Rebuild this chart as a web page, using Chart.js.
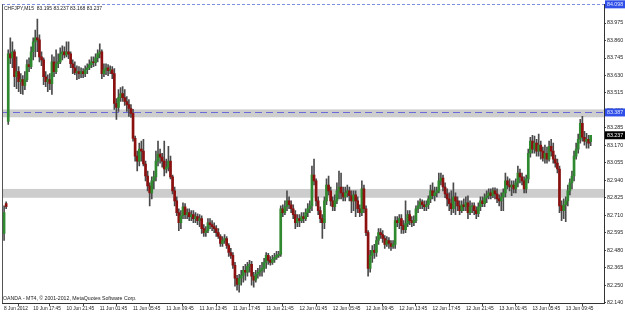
<!DOCTYPE html>
<html>
<head>
<meta charset="utf-8">
<script src="https://cdn.jsdelivr.net/npm/chart.js@4.4.0/dist/chart.umd.min.js"></script>
<style>
  html, body { margin: 0; padding: 0; background: #fff; }
  #wrap { width: 625px; height: 313px; }
</style>
</head>
<body>
<div id="wrap"><canvas id="chart" width="625" height="313"></canvas></div>
<script>
// CHFJPY M15 candles, 8-13 Jun 2012
const symbolTitle = 'CHFJPY,M15  83.195 83.237 83.168 83.237';
const footerText = 'OANDA - MT4, \u00a9 2001-2012, MetaQuotes Software Corp.';

const opens = [
  82.591,82.787,83.328,83.772,83.746,83.786,83.622,83.655,83.590,83.603,
  83.564,83.603,83.701,83.688,83.786,83.851,83.877,83.864,83.753,83.733,
  83.622,83.590,83.603,83.577,83.720,83.655,83.707,83.720,83.772,83.786,
  83.766,83.786,83.772,83.707,83.681,83.648,83.655,83.642,83.655,83.642,
  83.668,83.681,83.701,83.720,83.714,83.746,83.772,83.786,83.642,83.668,
  83.681,83.662,83.668,83.642,83.446,83.420,83.485,83.511,83.485,83.459,
  83.439,83.413,83.381,83.217,83.100,83.067,83.146,83.133,83.048,82.969,
  82.904,82.858,82.937,82.963,83.067,83.113,83.093,83.067,83.015,83.028,
  83.067,82.963,82.871,82.806,82.728,82.662,82.708,82.767,82.715,82.728,
  82.702,82.715,82.689,82.702,82.676,82.689,82.623,82.597,82.610,82.662,
  82.649,82.636,82.623,82.597,82.571,82.525,82.545,82.558,82.512,82.466,
  82.447,82.382,82.297,82.257,82.297,82.316,82.349,82.336,82.375,82.388,
  82.310,82.284,82.323,82.336,82.349,82.362,82.401,82.447,82.414,82.401,
  82.421,82.434,82.447,82.453,82.754,82.728,82.767,82.806,82.780,82.754,
  82.715,82.662,82.689,82.676,82.702,82.689,82.728,82.754,82.773,82.976,
  82.937,82.806,82.741,82.689,82.662,82.806,82.910,82.871,82.806,82.767,
  82.806,82.871,82.897,82.858,82.832,82.858,82.871,82.839,82.806,82.845,
  82.806,82.754,82.728,82.884,82.754,82.597,82.362,82.447,82.480,82.466,
  82.545,82.597,82.584,82.558,82.519,82.545,82.525,82.506,82.519,82.676,
  82.662,82.689,82.643,82.617,82.656,82.715,82.676,82.662,82.676,82.754,
  82.773,82.800,82.780,82.767,82.780,82.819,82.871,82.839,82.858,82.871,
  82.937,82.956,82.897,82.852,82.819,82.787,82.754,82.832,82.806,82.773,
  82.741,82.780,82.767,82.793,82.728,82.767,82.773,82.741,82.721,82.767,
  82.806,82.787,82.826,82.839,82.858,82.839,82.871,82.852,82.819,82.806,
  82.832,82.858,82.937,82.910,82.897,82.910,82.884,82.924,82.989,82.963,
  82.937,82.884,82.950,83.119,83.198,83.146,83.185,83.133,83.172,83.133,
  83.087,83.119,83.080,83.165,83.133,83.080,83.054,83.015,82.773,82.741,
  82.780,82.806,82.871,82.924,82.969,83.100,83.146,83.211,83.315,83.224,
  83.198,83.211,83.195
];
const highs = [
  82.773,82.800,83.799,83.877,83.851,83.799,83.753,83.688,83.642,83.629,
  83.655,83.733,83.746,83.818,83.877,83.929,84.001,83.897,83.786,83.746,
  83.655,83.635,83.642,83.766,83.753,83.799,83.772,83.812,83.825,83.818,
  83.851,83.851,83.786,83.733,83.720,83.694,83.688,83.681,83.675,83.694,
  83.707,83.733,83.753,83.753,83.772,83.799,83.838,83.799,83.707,83.707,
  83.701,83.694,83.688,83.675,83.479,83.537,83.550,83.557,83.537,83.492,
  83.472,83.439,83.407,83.231,83.133,83.185,83.198,83.211,83.067,83.002,
  82.924,82.963,83.002,83.133,83.198,83.146,83.119,83.198,83.080,83.165,
  83.100,82.976,82.897,82.832,82.754,82.741,82.793,82.787,82.754,82.754,
  82.741,82.741,82.728,82.721,82.715,82.708,82.649,82.636,82.689,82.689,
  82.676,82.662,82.643,82.623,82.584,82.571,82.584,82.571,82.525,82.493,
  82.466,82.401,82.316,82.323,82.349,82.375,82.388,82.401,82.414,82.408,
  82.336,82.349,82.362,82.382,82.401,82.427,82.466,82.460,82.440,82.447,
  82.460,82.473,82.473,82.773,82.780,82.806,82.871,82.832,82.806,82.780,
  82.741,82.715,82.715,82.728,82.728,82.754,82.787,82.806,83.035,83.080,
  82.950,82.832,82.767,82.715,82.832,82.950,82.969,82.897,82.832,82.845,
  82.924,83.002,82.989,82.897,82.897,82.910,82.897,82.871,82.871,82.871,
  82.832,82.780,82.937,82.910,82.773,82.610,82.480,82.512,82.519,82.571,
  82.623,82.623,82.610,82.577,82.571,82.564,82.545,82.545,82.702,82.702,
  82.715,82.715,82.676,82.806,82.741,82.741,82.702,82.708,82.773,82.806,
  82.819,82.813,82.806,82.806,82.839,82.910,82.924,82.897,82.897,82.989,
  82.989,82.976,82.924,82.884,82.858,82.871,82.924,82.858,82.832,82.806,
  82.806,82.819,82.832,82.839,82.806,82.793,82.793,82.767,82.793,82.832,
  82.832,82.852,82.871,82.884,82.884,82.891,82.891,82.884,82.845,82.858,
  82.884,82.989,82.963,82.950,82.937,82.937,82.950,83.035,83.015,82.989,
  82.963,82.976,83.146,83.224,83.237,83.231,83.211,83.244,83.198,83.159,
  83.172,83.159,83.198,83.211,83.185,83.106,83.080,83.035,82.806,82.819,
  82.832,82.910,82.950,83.002,83.133,83.185,83.244,83.341,83.361,83.263,
  83.250,83.237,83.237
];
const lows = [
  82.545,82.754,83.309,83.707,83.681,83.557,83.544,83.524,83.511,83.505,
  83.537,83.590,83.655,83.675,83.733,83.753,83.786,83.720,83.694,83.570,
  83.557,83.524,83.537,83.505,83.622,83.642,83.681,83.707,83.733,83.746,
  83.753,83.740,83.681,83.642,83.635,83.603,83.609,83.616,83.616,83.622,
  83.642,83.668,83.681,83.688,83.694,83.720,83.746,83.609,83.622,83.635,
  83.629,83.642,83.609,83.407,83.341,83.394,83.459,83.459,83.433,83.394,
  83.361,83.355,83.198,83.067,83.002,83.035,83.067,83.035,82.937,82.871,
  82.773,82.819,82.884,82.937,83.035,83.054,83.028,82.969,82.989,83.002,
  82.950,82.852,82.773,82.708,82.610,82.623,82.689,82.689,82.689,82.676,
  82.676,82.662,82.662,82.649,82.636,82.591,82.571,82.571,82.597,82.623,
  82.610,82.597,82.571,82.558,82.506,82.506,82.525,82.493,82.440,82.427,
  82.362,82.244,82.218,82.205,82.251,82.271,82.284,82.310,82.336,82.251,
  82.238,82.271,82.297,82.310,82.310,82.336,82.362,82.388,82.382,82.388,
  82.401,82.421,82.434,82.440,82.702,82.715,82.741,82.754,82.728,82.689,
  82.623,82.636,82.636,82.662,82.662,82.676,82.702,82.728,82.741,82.910,
  82.773,82.715,82.662,82.558,82.623,82.780,82.845,82.773,82.741,82.741,
  82.787,82.819,82.819,82.806,82.806,82.832,82.806,82.728,82.741,82.702,
  82.728,82.702,82.708,82.728,82.577,82.310,82.336,82.401,82.427,82.440,
  82.519,82.558,82.532,82.493,82.506,82.493,82.480,82.493,82.493,82.636,
  82.623,82.591,82.591,82.597,82.636,82.649,82.636,82.643,82.662,82.728,
  82.754,82.754,82.741,82.741,82.754,82.793,82.819,82.806,82.832,82.858,
  82.910,82.871,82.826,82.773,82.741,82.715,82.728,82.715,82.741,82.715,
  82.728,82.741,82.741,82.689,82.715,82.728,82.715,82.689,82.702,82.741,
  82.767,82.767,82.793,82.819,82.819,82.826,82.819,82.793,82.773,82.741,
  82.741,82.832,82.884,82.871,82.839,82.858,82.858,82.897,82.924,82.910,
  82.858,82.858,82.924,83.093,83.119,83.119,83.100,83.100,83.080,83.067,
  83.054,83.054,83.067,83.100,83.054,83.028,82.989,82.728,82.676,82.689,
  82.669,82.773,82.845,82.884,82.937,83.080,83.119,83.185,83.198,83.172,
  83.152,83.152,83.168
];
const closes = [
  82.728,82.767,83.772,83.746,83.786,83.622,83.655,83.590,83.603,83.564,
  83.603,83.701,83.688,83.786,83.851,83.877,83.864,83.753,83.733,83.622,
  83.590,83.603,83.577,83.720,83.655,83.707,83.720,83.772,83.786,83.766,
  83.786,83.772,83.707,83.681,83.648,83.655,83.642,83.655,83.642,83.668,
  83.681,83.701,83.720,83.714,83.746,83.772,83.786,83.642,83.668,83.681,
  83.662,83.668,83.642,83.446,83.420,83.485,83.511,83.485,83.459,83.439,
  83.413,83.381,83.217,83.100,83.067,83.146,83.133,83.048,82.969,82.904,
  82.858,82.937,82.963,83.067,83.113,83.093,83.067,83.015,83.028,83.067,
  82.963,82.871,82.806,82.728,82.662,82.708,82.767,82.715,82.728,82.702,
  82.715,82.689,82.702,82.676,82.689,82.623,82.597,82.610,82.662,82.649,
  82.636,82.623,82.597,82.571,82.525,82.545,82.558,82.512,82.466,82.447,
  82.382,82.297,82.257,82.297,82.316,82.349,82.336,82.375,82.388,82.310,
  82.284,82.323,82.336,82.349,82.362,82.401,82.447,82.414,82.401,82.421,
  82.434,82.447,82.453,82.754,82.728,82.767,82.806,82.780,82.754,82.715,
  82.662,82.689,82.676,82.702,82.689,82.728,82.754,82.773,82.976,82.937,
  82.806,82.741,82.689,82.662,82.806,82.910,82.871,82.806,82.767,82.806,
  82.871,82.897,82.858,82.832,82.858,82.871,82.839,82.806,82.845,82.806,
  82.754,82.728,82.884,82.754,82.597,82.362,82.447,82.480,82.466,82.545,
  82.597,82.584,82.558,82.519,82.545,82.525,82.506,82.519,82.676,82.662,
  82.689,82.643,82.617,82.656,82.715,82.676,82.662,82.676,82.754,82.773,
  82.800,82.780,82.767,82.780,82.819,82.871,82.839,82.858,82.871,82.937,
  82.956,82.897,82.852,82.819,82.787,82.754,82.832,82.806,82.773,82.741,
  82.780,82.767,82.793,82.728,82.767,82.773,82.741,82.721,82.767,82.806,
  82.787,82.826,82.839,82.858,82.839,82.871,82.852,82.819,82.806,82.832,
  82.858,82.937,82.910,82.897,82.910,82.884,82.924,82.989,82.963,82.937,
  82.884,82.950,83.119,83.198,83.146,83.185,83.133,83.172,83.133,83.087,
  83.119,83.080,83.165,83.133,83.080,83.054,83.015,82.773,82.741,82.780,
  82.806,82.871,82.924,82.969,83.100,83.146,83.211,83.315,83.224,83.198,
  83.211,83.185,83.237
];

// time axis: bar index of each label (16 bars = 4 hours)
const xTickBars = [0,14,30,46,62,78,94,110,126,142,158,174,190,206,222,238,254,270];
const xTickLabels = ['8 Jun 2012','10 Jun 17:45','10 Jun 21:45','11 Jun 01:45','11 Jun 05:45',
  '11 Jun 09:45','11 Jun 13:45','11 Jun 17:45','11 Jun 21:45','12 Jun 01:45','12 Jun 05:45',
  '12 Jun 09:45','12 Jun 13:45','12 Jun 17:45','12 Jun 21:45','13 Jun 01:45','13 Jun 05:45','13 Jun 09:45'];
const yTickValues = [82.140,82.250,82.365,82.480,82.595,82.710,82.825,82.940,83.055,83.170,
  83.285,83.400,83.515,83.630,83.745,83.860,83.975,84.090];

// drawn objects on the chart
const zoneBands = [[83.355, 83.407], [82.826, 82.884]];
const levelLine = 83.387;
const topLine = 84.098;
const lastPrice = 83.237;

const UP = '#2f8a2f', DOWN = '#8c1010', WICK = '#4a4a4a';
const FONT = '"Liberation Sans", Arial, sans-serif';

const mt4Overlay = {
  id: 'mt4Overlay',
  beforeDatasetsDraw(chart) {
    const { ctx, chartArea: a, scales: { y } } = chart;
    ctx.save();
    ctx.fillStyle = '#cdcdcd';
    zoneBands.forEach(([lo, hi]) => {
      const t = y.getPixelForValue(hi), b = y.getPixelForValue(lo);
      ctx.fillRect(a.left, t, a.right - a.left, b - t);
    });
    ctx.lineWidth = 1;
    ctx.strokeStyle = '#6a6ad8';
    ctx.setLineDash([7, 4]);
    let py = Math.round(y.getPixelForValue(levelLine)) + 0.5;
    ctx.beginPath(); ctx.moveTo(a.left, py); ctx.lineTo(a.right, py); ctx.stroke();
    ctx.strokeStyle = '#7d8fe0';
    ctx.setLineDash([3, 2]);
    py = Math.round(y.getPixelForValue(topLine)) + 0.5;
    ctx.beginPath(); ctx.moveTo(a.left, py); ctx.lineTo(a.right, py); ctx.stroke();
    ctx.restore();
  },
  afterDraw(chart) {
    const { ctx, chartArea: a, scales: { y } } = chart;
    ctx.save();
    // left frame edge
    ctx.strokeStyle = '#555';
    ctx.lineWidth = 1;
    ctx.beginPath(); ctx.moveTo(a.left + 0.5, a.top); ctx.lineTo(a.left + 0.5, a.bottom); ctx.stroke();

    ctx.fillStyle = '#1a1a1a';
    ctx.textBaseline = 'alphabetic';
    ctx.textAlign = 'left';
    ctx.font = '5px ' + FONT;
    ctx.fillText(symbolTitle, a.left + 2, a.top + 6);
    ctx.font = '5.2px ' + FONT;
    ctx.fillText(footerText, a.left + 1, a.bottom - 3);

    // price boxes on the right axis
    const boxes = [
      [topLine, '#2f4fe8', '#dfe6ff'],
      [levelLine, '#2f4fe8', '#dfe6ff'],
      [lastPrice, '#000000', '#ffffff']
    ];
    ctx.font = '5.3px ' + FONT;
    ctx.textBaseline = 'middle';
    boxes.forEach(([v, bg, fg]) => {
      const py = y.getPixelForValue(v);
      ctx.fillStyle = bg;
      ctx.fillRect(a.right + 1, py - 4, chart.width - a.right - 1, 8);
      ctx.fillStyle = fg;
      ctx.fillText(v.toFixed(3), a.right + 3, py + 0.5);
    });
    ctx.restore();
  }
};

const barIdx = opens.map((_, i) => i);

new Chart(document.getElementById('chart'), {
  type: 'bar',
  data: {
    datasets: [
      {
        label: 'wick',
        data: barIdx.map(i => ({ x: i, y: [lows[i], highs[i]] })),
        backgroundColor: WICK,
        barThickness: 1,
        grouped: false,
        order: 2
      },
      {
        label: 'body',
        data: barIdx.map(i => ({ x: i, y: [opens[i], closes[i]] })),
        backgroundColor: c => closes[c.dataIndex] >= opens[c.dataIndex] ? UP : DOWN,
        barThickness: 2,
        minBarLength: 1,
        grouped: false,
        order: 1
      }
    ]
  },
  options: {
    responsive: false,
    devicePixelRatio: 1,
    animation: false,
    layout: { padding: { left: 2, top: 2, right: 0, bottom: 0 } },
    plugins: { legend: { display: false }, tooltip: { enabled: false } },
    scales: {
      x: {
        type: 'linear',
        min: -1,
        max: 288.4,
        offset: false,
        afterFit: s => { s.height = 10; },
        afterBuildTicks: s => { s.ticks = xTickBars.map(v => ({ value: v })); },
        ticks: {
          autoSkip: false,
          maxRotation: 0,
          align: 'start',
          padding: 0,
          color: '#222',
          font: { family: FONT, size: 4.8 },
          callback: (v, i) => xTickLabels[i]
        },
        grid: { drawOnChartArea: false, tickLength: 3, color: '#444' },
        border: { display: true, color: '#333' }
      },
      y: {
        position: 'right',
        min: 82.134,
        max: 84.099,
        afterFit: s => { s.width = 21; },
        afterBuildTicks: s => { s.ticks = yTickValues.map(v => ({ value: v })); },
        ticks: {
          autoSkip: false,
          padding: 1,
          color: '#222',
          font: { family: FONT, size: 5.3 },
          callback: v => v.toFixed(3)
        },
        grid: { drawOnChartArea: false, tickLength: 2, color: '#444' },
        border: { display: true, color: '#333' }
      }
    }
  },
  plugins: [mt4Overlay]
});
</script>
</body>
</html>
